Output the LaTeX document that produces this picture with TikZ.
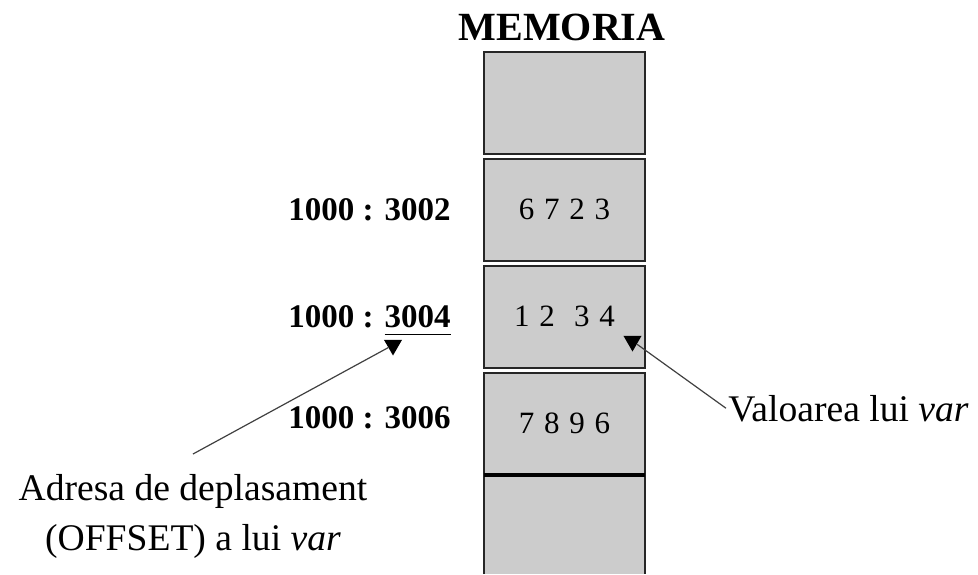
\documentclass[tikz,border=0pt]{standalone}
\usepackage{fontspec}
\setmainfont{Liberation Serif}
\newfontfamily\celfont[WordSpace=1.25]{Liberation Serif}
\usetikzlibrary{shapes.geometric}
\tikzset{
  cel/.style={draw=black!85,line width=1pt,fill=black!20,minimum width=80.5pt,
    minimum height=51pt,inner sep=0pt,font=\celfont\fontsize{15.5}{18}\selectfont},
  adresa/.style={anchor=base east,inner sep=0pt,font=\fontsize{16.5}{18}\selectfont\bfseries},
  marcaj/.style={regular polygon,regular polygon sides=3,shape border rotate=180,
    fill=black,inner sep=0pt,minimum size=10.5pt},
  legatura/.style={black!75,line width=0.6pt},
  eticheta/.style={font=\fontsize{18.8}{25}\selectfont,inner sep=1pt}
}
\begin{document}
\begin{tikzpicture}[x=0.5pt,y=-0.5pt]
\useasboundingbox (0,0) rectangle (978,574);
\node[font=\fontsize{20}{24}\selectfont\bfseries] (titlu) at (562,27) {MEMORIA};
% celulele de memorie
\foreach \n/\y/\t in {1/103/{},2/209.5/{6 7 2 3},3/316.5/{1 2\ \ 3 4},4/423.5/{7 8 9 6}}{
  \node[cel] (c\n) at (564.5,\y) {\t};
}
% ultima celula, taiata de margine
\fill[black!20] (484,475) rectangle (645,574);
\draw[black!85,line width=1pt] (484,574)--(484,475)--(645,475)--(645,574);
\draw[black,line width=1.6pt] (484,475)--(645,475);
% adresele
\foreach \n/\y/\t in {2/220/3002,3/327/{\underline{3004\rule[-2.5pt]{0pt}{1pt}}},4/428/3006}{
  \node[adresa] (a\n) at (451,\y) {1000 : \t};
}
\node[marcaj] (t1) at (393,345) {};
\node[marcaj] (t2) at (632.5,341) {};
\node[eticheta,anchor=base west] (val) at (726,421) {Valoarea lui \textit{var}};
\node[eticheta,align=center,anchor=north] (adr) at (193,472) {Adresa de deplasament\\(OFFSET) a lui \textit{var}};
\coordinate (capat) at (193,454);
\draw[legatura] (capat) -- (t1);
\draw[legatura] (t2) -- (val.west);
\end{tikzpicture}
\end{document}
